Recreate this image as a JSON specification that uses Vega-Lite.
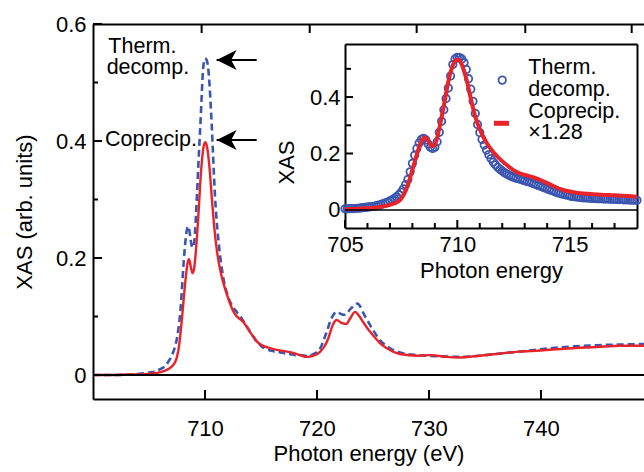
{
  "$schema": "https://vega.github.io/schema/vega-lite/v6.json",
  "width": 551,
  "height": 375,
  "autosize": {"type": "none"},
  "padding": {"left": 93, "top": 24, "right": 0, "bottom": 73},
  "background": "white",
  "config": {
    "font": "Liberation Sans",
    "view": {"stroke": null},
    "axis": {
      "grid": false, "labelFont": "Liberation Sans", "labelFontSize": 22, "labelColor": "black",
      "titleFont": "Liberation Sans", "titleFontSize": 22, "titleFontWeight": "normal", "titleColor": "black",
      "domainColor": "black", "domainWidth": 2, "labelFlush": false, "labelOverlap": false
    }
  },
  "datasets": {
    "therm": [
      {"e": 700, "v": 0}, {"e": 702, "v": 0}, {"e": 703.5, "v": 0.001}, {"e": 704.5, "v": 0.003},
      {"e": 705.0, "v": 0.004}, {"e": 705.1, "v": 0.004}, {"e": 705.2, "v": 0.005}, {"e": 705.3, "v": 0.005}, {"e": 705.4, "v": 0.005},
      {"e": 705.5, "v": 0.006}, {"e": 705.6, "v": 0.006}, {"e": 705.7, "v": 0.007}, {"e": 705.8, "v": 0.008}, {"e": 705.9, "v": 0.009},
      {"e": 706.0, "v": 0.010}, {"e": 706.1, "v": 0.011}, {"e": 706.2, "v": 0.012}, {"e": 706.3, "v": 0.013}, {"e": 706.4, "v": 0.015},
      {"e": 706.5, "v": 0.017}, {"e": 706.6, "v": 0.019}, {"e": 706.7, "v": 0.022}, {"e": 706.8, "v": 0.025}, {"e": 706.9, "v": 0.028},
      {"e": 707.0, "v": 0.032}, {"e": 707.1, "v": 0.036}, {"e": 707.2, "v": 0.041}, {"e": 707.3, "v": 0.047}, {"e": 707.4, "v": 0.054},
      {"e": 707.5, "v": 0.063}, {"e": 707.6, "v": 0.075}, {"e": 707.7, "v": 0.090}, {"e": 707.8, "v": 0.108}, {"e": 707.9, "v": 0.135},
      {"e": 708.0, "v": 0.165}, {"e": 708.1, "v": 0.194}, {"e": 708.2, "v": 0.218}, {"e": 708.3, "v": 0.237}, {"e": 708.4, "v": 0.250},
      {"e": 708.5, "v": 0.254}, {"e": 708.6, "v": 0.248}, {"e": 708.7, "v": 0.234}, {"e": 708.8, "v": 0.222}, {"e": 708.9, "v": 0.218},
      {"e": 709.0, "v": 0.222}, {"e": 709.1, "v": 0.242}, {"e": 709.2, "v": 0.275}, {"e": 709.3, "v": 0.314}, {"e": 709.4, "v": 0.355},
      {"e": 709.5, "v": 0.395}, {"e": 709.6, "v": 0.432}, {"e": 709.7, "v": 0.475}, {"e": 709.8, "v": 0.515}, {"e": 709.9, "v": 0.535},
      {"e": 710.0, "v": 0.541}, {"e": 710.1, "v": 0.540}, {"e": 710.2, "v": 0.535}, {"e": 710.3, "v": 0.522}, {"e": 710.4, "v": 0.498},
      {"e": 710.5, "v": 0.465}, {"e": 710.6, "v": 0.428}, {"e": 710.7, "v": 0.385}, {"e": 710.8, "v": 0.342}, {"e": 710.9, "v": 0.303},
      {"e": 711.0, "v": 0.274}, {"e": 711.1, "v": 0.250}, {"e": 711.2, "v": 0.230}, {"e": 711.3, "v": 0.212}, {"e": 711.4, "v": 0.196},
      {"e": 711.5, "v": 0.182}, {"e": 711.6, "v": 0.170}, {"e": 711.7, "v": 0.160}, {"e": 711.8, "v": 0.151}, {"e": 711.9, "v": 0.144},
      {"e": 712.0, "v": 0.138}, {"e": 712.1, "v": 0.132}, {"e": 712.2, "v": 0.127}, {"e": 712.3, "v": 0.123}, {"e": 712.4, "v": 0.119},
      {"e": 712.5, "v": 0.116}, {"e": 712.6, "v": 0.113}, {"e": 712.7, "v": 0.111}, {"e": 712.8, "v": 0.109}, {"e": 712.9, "v": 0.106},
      {"e": 713.0, "v": 0.104}, {"e": 713.1, "v": 0.101}, {"e": 713.2, "v": 0.099}, {"e": 713.3, "v": 0.096}, {"e": 713.4, "v": 0.093},
      {"e": 713.5, "v": 0.090}, {"e": 713.6, "v": 0.087}, {"e": 713.7, "v": 0.084}, {"e": 713.8, "v": 0.081}, {"e": 713.9, "v": 0.078},
      {"e": 714.0, "v": 0.075}, {"e": 714.1, "v": 0.072}, {"e": 714.2, "v": 0.069}, {"e": 714.3, "v": 0.066}, {"e": 714.4, "v": 0.063},
      {"e": 714.5, "v": 0.060}, {"e": 714.6, "v": 0.058}, {"e": 714.7, "v": 0.056}, {"e": 714.8, "v": 0.054}, {"e": 714.9, "v": 0.052},
      {"e": 715.0, "v": 0.050}, {"e": 715.1, "v": 0.048}, {"e": 715.2, "v": 0.047}, {"e": 715.3, "v": 0.046}, {"e": 715.4, "v": 0.045},
      {"e": 715.5, "v": 0.044}, {"e": 715.6, "v": 0.043}, {"e": 715.7, "v": 0.043}, {"e": 715.8, "v": 0.042}, {"e": 715.9, "v": 0.042},
      {"e": 716.0, "v": 0.041}, {"e": 716.1, "v": 0.041}, {"e": 716.2, "v": 0.040}, {"e": 716.3, "v": 0.040}, {"e": 716.4, "v": 0.040},
      {"e": 716.5, "v": 0.039}, {"e": 716.6, "v": 0.039}, {"e": 716.7, "v": 0.039}, {"e": 716.8, "v": 0.038}, {"e": 716.9, "v": 0.038},
      {"e": 717.0, "v": 0.038}, {"e": 717.1, "v": 0.037}, {"e": 717.2, "v": 0.037}, {"e": 717.3, "v": 0.037}, {"e": 717.4, "v": 0.036},
      {"e": 717.5, "v": 0.036}, {"e": 717.6, "v": 0.036}, {"e": 717.7, "v": 0.035}, {"e": 717.8, "v": 0.035}, {"e": 717.9, "v": 0.035},
      {"e": 718.0, "v": 0.034},
      {"e": 718.5, "v": 0.034}, {"e": 719.1, "v": 0.033}, {"e": 719.7, "v": 0.036}, {"e": 720.3, "v": 0.046}, {"e": 720.8, "v": 0.07},
      {"e": 721.3, "v": 0.097}, {"e": 721.75, "v": 0.108}, {"e": 722.2, "v": 0.104}, {"e": 722.5, "v": 0.103}, {"e": 723.0, "v": 0.113},
      {"e": 723.6, "v": 0.122}, {"e": 724.3, "v": 0.1}, {"e": 725.0, "v": 0.077}, {"e": 725.7, "v": 0.058}, {"e": 726.5, "v": 0.046},
      {"e": 727.5, "v": 0.038}, {"e": 729, "v": 0.034}, {"e": 731, "v": 0.032}, {"e": 733, "v": 0.031}, {"e": 735, "v": 0.034},
      {"e": 737, "v": 0.038}, {"e": 739, "v": 0.042}, {"e": 741, "v": 0.046}, {"e": 743, "v": 0.049}, {"e": 745, "v": 0.051},
      {"e": 747, "v": 0.052}, {"e": 749.2, "v": 0.053}
    ],
    "coprec": [
      {"e": 700, "v": 0}, {"e": 702, "v": 0}, {"e": 703, "v": 0.001}, {"e": 704, "v": 0.001}, {"e": 705, "v": 0.002},
      {"e": 705.5, "v": 0.003}, {"e": 706, "v": 0.005}, {"e": 706.5, "v": 0.008}, {"e": 707, "v": 0.014}, {"e": 707.3, "v": 0.021},
      {"e": 707.5, "v": 0.031}, {"e": 707.7, "v": 0.052}, {"e": 707.9, "v": 0.088}, {"e": 708.1, "v": 0.13}, {"e": 708.3, "v": 0.17},
      {"e": 708.45, "v": 0.192}, {"e": 708.58, "v": 0.198}, {"e": 708.72, "v": 0.186}, {"e": 708.88, "v": 0.174}, {"e": 709.03, "v": 0.182},
      {"e": 709.2, "v": 0.215}, {"e": 709.4, "v": 0.27}, {"e": 709.6, "v": 0.335}, {"e": 709.8, "v": 0.38}, {"e": 709.95, "v": 0.396},
      {"e": 710.05, "v": 0.398}, {"e": 710.2, "v": 0.388}, {"e": 710.4, "v": 0.355}, {"e": 710.6, "v": 0.305}, {"e": 710.8, "v": 0.258},
      {"e": 711.0, "v": 0.222}, {"e": 711.3, "v": 0.185}, {"e": 711.6, "v": 0.16}, {"e": 711.9, "v": 0.141}, {"e": 712.2, "v": 0.124},
      {"e": 712.5, "v": 0.11}, {"e": 712.8, "v": 0.101}, {"e": 713.1, "v": 0.096}, {"e": 713.4, "v": 0.091}, {"e": 713.7, "v": 0.083},
      {"e": 714.0, "v": 0.074}, {"e": 714.3, "v": 0.066}, {"e": 714.6, "v": 0.058}, {"e": 714.9, "v": 0.053}, {"e": 715.3, "v": 0.049},
      {"e": 715.8, "v": 0.046}, {"e": 716.4, "v": 0.043}, {"e": 717.0, "v": 0.041}, {"e": 717.6, "v": 0.039}, {"e": 718.0, "v": 0.037},
      {"e": 718.5, "v": 0.034}, {"e": 719.1, "v": 0.031}, {"e": 719.7, "v": 0.033}, {"e": 720.3, "v": 0.040}, {"e": 720.7, "v": 0.050},
      {"e": 721.0, "v": 0.062}, {"e": 721.4, "v": 0.085}, {"e": 721.75, "v": 0.094}, {"e": 722.2, "v": 0.089}, {"e": 722.6, "v": 0.087},
      {"e": 723.0, "v": 0.098}, {"e": 723.4, "v": 0.108}, {"e": 723.8, "v": 0.100}, {"e": 724.1, "v": 0.091}, {"e": 724.5, "v": 0.080},
      {"e": 725.0, "v": 0.068}, {"e": 725.6, "v": 0.055}, {"e": 726.2, "v": 0.046}, {"e": 727.4, "v": 0.036}, {"e": 729.0, "v": 0.033},
      {"e": 730.1, "v": 0.034}, {"e": 731.5, "v": 0.031}, {"e": 732.8, "v": 0.030}, {"e": 734.0, "v": 0.032}, {"e": 736.0, "v": 0.036},
      {"e": 738.0, "v": 0.040}, {"e": 740.0, "v": 0.042}, {"e": 742.0, "v": 0.045}, {"e": 745.0, "v": 0.048}, {"e": 747.0, "v": 0.050},
      {"e": 749.2, "v": 0.050}
    ],
    "coprecScaled": [
      {"e": 705.0, "v": 0.003}, {"e": 705.5, "v": 0.004}, {"e": 706.0, "v": 0.006}, {"e": 706.5, "v": 0.010}, {"e": 707.0, "v": 0.018},
      {"e": 707.3, "v": 0.027}, {"e": 707.5, "v": 0.040}, {"e": 707.7, "v": 0.068}, {"e": 707.9, "v": 0.115}, {"e": 708.1, "v": 0.170},
      {"e": 708.3, "v": 0.222}, {"e": 708.45, "v": 0.250}, {"e": 708.55, "v": 0.258}, {"e": 708.7, "v": 0.245}, {"e": 708.85, "v": 0.226},
      {"e": 709.0, "v": 0.232}, {"e": 709.2, "v": 0.290}, {"e": 709.4, "v": 0.370}, {"e": 709.6, "v": 0.455}, {"e": 709.8, "v": 0.513},
      {"e": 709.95, "v": 0.532}, {"e": 710.05, "v": 0.532}, {"e": 710.2, "v": 0.515}, {"e": 710.4, "v": 0.465}, {"e": 710.6, "v": 0.395},
      {"e": 710.8, "v": 0.330}, {"e": 711.0, "v": 0.286}, {"e": 711.3, "v": 0.238}, {"e": 711.6, "v": 0.205}, {"e": 711.9, "v": 0.180},
      {"e": 712.2, "v": 0.159}, {"e": 712.5, "v": 0.141}, {"e": 712.8, "v": 0.129}, {"e": 713.1, "v": 0.122}, {"e": 713.4, "v": 0.115},
      {"e": 713.7, "v": 0.106}, {"e": 714.0, "v": 0.095}, {"e": 714.3, "v": 0.084}, {"e": 714.6, "v": 0.074}, {"e": 714.9, "v": 0.067},
      {"e": 715.3, "v": 0.061}, {"e": 715.8, "v": 0.057}, {"e": 716.4, "v": 0.054}, {"e": 717.0, "v": 0.052}, {"e": 717.6, "v": 0.049},
      {"e": 718.0, "v": 0.047}
    ],
    "notes": [
      {"e": 701.37, "v": 0.551, "t": "Therm."},
      {"e": 701.22, "v": 0.5145, "t": "decomp."},
      {"e": 701.07, "v": 0.391, "t": "Coprecip."}
    ],
    "arrows": [
      {"e": 711.04, "e2": 714.62, "v": 0.5385},
      {"e": 711.04, "e2": 714.62, "v": 0.4017}
    ],
    "legendText": [
      {"e": 713.16, "v": 0.480, "t": "Therm."},
      {"e": 713.16, "v": 0.404, "t": "decomp."},
      {"e": 713.16, "v": 0.327, "t": "Coprecip."},
      {"e": 713.16, "v": 0.251, "t": "×1.28"}
    ],
    "legendCircle": [{"e": 712.0, "v": 0.460}],
    "legendDash": [{"e": 711.63, "e2": 712.3, "v": 0.307}],
    "mainTicksBottom": [{"e": 710}, {"e": 720}, {"e": 730}, {"e": 740}],
    "mainTicksTop": [{"e": 709.7}, {"e": 719.35}, {"e": 728.9}, {"e": 738.6}, {"e": 748.1}],
    "mainTicksYMajor": [{"v": 0}, {"v": 0.2}, {"v": 0.4}, {"v": 0.6}],
    "mainTicksYMinor": [{"v": 0.1}, {"v": 0.3}, {"v": 0.5}],
    "insetTicksXMajor": [{"e": 705}, {"e": 710}, {"e": 715}],
    "insetTicksXMinor": [{"e": 706}, {"e": 707}, {"e": 708}, {"e": 709}, {"e": 711}, {"e": 712}, {"e": 713}, {"e": 714}, {"e": 716}, {"e": 717}],
    "insetTicksYMajor": [{"v": 0.2}, {"v": 0.4}],
    "insetTicksYMinor": [{"v": 0.1}, {"v": 0.3}, {"v": 0.5}]
  },
  "layer": [
    {
      "data": {"name": "therm"},
      "mark": {"type": "line", "color": "#3a56b0", "strokeWidth": 2.6, "strokeDash": [7, 4], "interpolate": "monotone"},
      "encoding": {
        "x": {"field": "e", "type": "quantitative", "scale": {"domain": [700, 749.2], "nice": false, "zero": false},
          "axis": {"orient": "bottom", "values": [710, 720, 730, 740], "format": "d", "ticks": false, "labelPadding": 19, "title": "Photon energy (eV)", "titlePadding": 4}},
        "y": {"field": "v", "type": "quantitative", "scale": {"domain": [-0.041, 0.6], "nice": false, "zero": false},
          "axis": {"orient": "left", "values": [0, 0.2, 0.4, 0.6], "ticks": false, "labelPadding": 7,
            "labelExpr": "datum.value == 0 ? '0' : format(datum.value, '.1f')",
            "title": "XAS (arb. units)", "titlePadding": 19}}
      }
    },
    {
      "data": {"name": "coprec"},
      "mark": {"type": "line", "color": "#e8232a", "strokeWidth": 2.4, "interpolate": "monotone"},
      "encoding": {
        "x": {"field": "e", "type": "quantitative", "scale": {"domain": [700, 749.2], "nice": false, "zero": false},
          "axis": {"orient": "top", "ticks": false, "labels": false, "title": null}},
        "y": {"field": "v", "type": "quantitative", "scale": {"domain": [-0.041, 0.6], "nice": false, "zero": false}, "axis": null}
      }
    },
    {
      "data": {"name": "mainTicksBottom"},
      "mark": {"type": "rule", "color": "black", "strokeWidth": 2},
      "encoding": {
        "x": {"field": "e", "type": "quantitative", "scale": {"domain": [700, 749.2], "nice": false, "zero": false}, "axis": null},
        "y": {"datum": -0.041, "type": "quantitative", "scale": {"domain": [-0.041, 0.6], "nice": false, "zero": false}, "axis": null},
        "y2": {"datum": -0.0256}
      }
    },
    {
      "data": {"name": "mainTicksTop"},
      "mark": {"type": "rule", "color": "black", "strokeWidth": 2},
      "encoding": {
        "x": {"field": "e", "type": "quantitative", "scale": {"domain": [700, 749.2], "nice": false, "zero": false}, "axis": null},
        "y": {"datum": 0.6, "type": "quantitative", "scale": {"domain": [-0.041, 0.6], "nice": false, "zero": false}, "axis": null},
        "y2": {"datum": 0.5846}
      }
    },
    {
      "data": {"name": "mainTicksYMajor"},
      "mark": {"type": "rule", "color": "black", "strokeWidth": 2},
      "encoding": {
        "y": {"field": "v", "type": "quantitative", "scale": {"domain": [-0.041, 0.6], "nice": false, "zero": false}, "axis": null},
        "x": {"datum": 700, "type": "quantitative", "scale": {"domain": [700, 749.2], "nice": false, "zero": false}, "axis": null},
        "x2": {"datum": 700.804}
      }
    },
    {
      "data": {"name": "mainTicksYMinor"},
      "mark": {"type": "rule", "color": "black", "strokeWidth": 2},
      "encoding": {
        "y": {"field": "v", "type": "quantitative", "scale": {"domain": [-0.041, 0.6], "nice": false, "zero": false}, "axis": null},
        "x": {"datum": 700, "type": "quantitative", "scale": {"domain": [700, 749.2], "nice": false, "zero": false}, "axis": null},
        "x2": {"datum": 700.446}
      }
    },
    {
      "data": {"values": [{}]},
      "mark": {"type": "rule", "color": "black", "strokeWidth": 1.8},
      "encoding": {
        "y": {"datum": 0, "type": "quantitative", "scale": {"domain": [-0.041, 0.6], "nice": false, "zero": false}, "axis": null}
      }
    },
    {
      "data": {"name": "notes"},
      "mark": {"type": "text", "align": "left", "baseline": "alphabetic", "fontSize": 21.5, "font": "Liberation Sans", "color": "black"},
      "encoding": {
        "x": {"field": "e", "type": "quantitative", "scale": {"domain": [700, 749.2], "nice": false, "zero": false}, "axis": null},
        "y": {"field": "v", "type": "quantitative", "scale": {"domain": [-0.041, 0.6], "nice": false, "zero": false}, "axis": null},
        "text": {"field": "t"}
      }
    },
    {
      "data": {"name": "arrows"},
      "mark": {"type": "rule", "color": "black", "strokeWidth": 2},
      "encoding": {
        "x": {"field": "e", "type": "quantitative", "scale": {"domain": [700, 749.2], "nice": false, "zero": false}, "axis": null},
        "x2": {"field": "e2"},
        "y": {"field": "v", "type": "quantitative", "scale": {"domain": [-0.041, 0.6], "nice": false, "zero": false}, "axis": null}
      }
    },
    {
      "data": {"name": "arrows"},
      "mark": {"type": "point", "shape": "M0,0L2,-1L1.45,0L2,1Z", "filled": true, "color": "black", "size": 400, "opacity": 1},
      "encoding": {
        "x": {"field": "e", "type": "quantitative", "scale": {"domain": [700, 749.2], "nice": false, "zero": false}, "axis": null},
        "y": {"field": "v", "type": "quantitative", "scale": {"domain": [-0.041, 0.6], "nice": false, "zero": false}, "axis": null}
      }
    },
    {
      "data": {"name": "therm"},
      "transform": [{"filter": "datum.e >= 705 && datum.e <= 718"}],
      "mark": {"type": "point", "shape": "circle", "filled": false, "stroke": "#3a56b0", "strokeWidth": 1.8, "size": 55, "opacity": 1},
      "encoding": {
        "x": {"field": "e", "type": "quantitative", "scale": {"domain": [705, 718], "range": [252, 544], "nice": false, "zero": false},
          "axis": {"orient": "bottom", "offset": -171, "values": [705, 710, 715], "format": "d", "ticks": false,
            "labelPadding": 6, "title": "Photon energy", "titlePadding": 5}},
        "y": {"field": "v", "type": "quantitative", "scale": {"domain": [-0.064, 0.588], "range": [204, 20], "nice": false, "zero": false},
          "axis": {"orient": "left", "offset": -252, "values": [0, 0.2, 0.4], "ticks": false,
            "labelPadding": 5,
            "labelExpr": "datum.value == 0 ? '0' : format(datum.value, '.1f')",
            "title": "XAS", "titleX": -47, "titleY": 138}}
      }
    },
    {
      "data": {"name": "coprecScaled"},
      "mark": {"type": "line", "color": "#e8232a", "strokeWidth": 4, "interpolate": "monotone"},
      "encoding": {
        "x": {"field": "e", "type": "quantitative", "scale": {"domain": [705, 718], "range": [252, 544], "nice": false, "zero": false},
          "axis": {"orient": "top", "offset": -20, "ticks": false, "labels": false, "title": null}},
        "y": {"field": "v", "type": "quantitative", "scale": {"domain": [-0.064, 0.588], "range": [204, 20], "nice": false, "zero": false},
          "axis": {"orient": "right", "offset": -7, "ticks": false, "labels": false, "title": null}}
      }
    },
    {
      "data": {"name": "insetTicksXMajor"},
      "mark": {"type": "rule", "color": "black", "strokeWidth": 2},
      "encoding": {
        "x": {"field": "e", "type": "quantitative", "scale": {"domain": [705, 718], "range": [252, 544], "nice": false, "zero": false}, "axis": null},
        "y": {"datum": -0.064, "type": "quantitative", "scale": {"domain": [-0.064, 0.588], "range": [204, 20], "nice": false, "zero": false}, "axis": null},
        "y2": {"datum": -0.0357}
      }
    },
    {
      "data": {"name": "insetTicksXMinor"},
      "mark": {"type": "rule", "color": "black", "strokeWidth": 2},
      "encoding": {
        "x": {"field": "e", "type": "quantitative", "scale": {"domain": [705, 718], "range": [252, 544], "nice": false, "zero": false}, "axis": null},
        "y": {"datum": -0.064, "type": "quantitative", "scale": {"domain": [-0.064, 0.588], "range": [204, 20], "nice": false, "zero": false}, "axis": null},
        "y2": {"datum": -0.0463}
      }
    },
    {
      "data": {"name": "insetTicksYMajor"},
      "mark": {"type": "rule", "color": "black", "strokeWidth": 2},
      "encoding": {
        "y": {"field": "v", "type": "quantitative", "scale": {"domain": [-0.064, 0.588], "range": [204, 20], "nice": false, "zero": false}, "axis": null},
        "x": {"datum": 705, "type": "quantitative", "scale": {"domain": [705, 718], "range": [252, 544], "nice": false, "zero": false}, "axis": null},
        "x2": {"datum": 705.356}
      }
    },
    {
      "data": {"name": "insetTicksYMinor"},
      "mark": {"type": "rule", "color": "black", "strokeWidth": 2},
      "encoding": {
        "y": {"field": "v", "type": "quantitative", "scale": {"domain": [-0.064, 0.588], "range": [204, 20], "nice": false, "zero": false}, "axis": null},
        "x": {"datum": 705, "type": "quantitative", "scale": {"domain": [705, 718], "range": [252, 544], "nice": false, "zero": false}, "axis": null},
        "x2": {"datum": 705.267}
      }
    },
    {
      "data": {"values": [{}]},
      "mark": {"type": "rule", "color": "black", "strokeWidth": 1.6},
      "encoding": {
        "x": {"datum": 705, "type": "quantitative", "scale": {"domain": [705, 718], "range": [252, 544], "nice": false, "zero": false}, "axis": null},
        "x2": {"datum": 718},
        "y": {"datum": 0, "type": "quantitative", "scale": {"domain": [-0.064, 0.588], "range": [204, 20], "nice": false, "zero": false}, "axis": null}
      }
    },
    {
      "data": {"name": "legendCircle"},
      "mark": {"type": "point", "shape": "circle", "filled": false, "stroke": "#3a56b0", "strokeWidth": 1.8, "size": 55, "opacity": 1},
      "encoding": {
        "x": {"field": "e", "type": "quantitative", "scale": {"domain": [705, 718], "range": [252, 544], "nice": false, "zero": false}, "axis": null},
        "y": {"field": "v", "type": "quantitative", "scale": {"domain": [-0.064, 0.588], "range": [204, 20], "nice": false, "zero": false}, "axis": null}
      }
    },
    {
      "data": {"name": "legendDash"},
      "mark": {"type": "rule", "color": "#e8232a", "strokeWidth": 5},
      "encoding": {
        "x": {"field": "e", "type": "quantitative", "scale": {"domain": [705, 718], "range": [252, 544], "nice": false, "zero": false}, "axis": null},
        "x2": {"field": "e2"},
        "y": {"field": "v", "type": "quantitative", "scale": {"domain": [-0.064, 0.588], "range": [204, 20], "nice": false, "zero": false}, "axis": null}
      }
    },
    {
      "data": {"name": "legendText"},
      "mark": {"type": "text", "align": "left", "baseline": "alphabetic", "fontSize": 21.5, "font": "Liberation Sans", "color": "black"},
      "encoding": {
        "x": {"field": "e", "type": "quantitative", "scale": {"domain": [705, 718], "range": [252, 544], "nice": false, "zero": false}, "axis": null},
        "y": {"field": "v", "type": "quantitative", "scale": {"domain": [-0.064, 0.588], "range": [204, 20], "nice": false, "zero": false}, "axis": null},
        "text": {"field": "t"}
      }
    }
  ],
  "resolve": {"scale": {"x": "independent", "y": "independent"}, "axis": {"x": "independent", "y": "independent"}}
}
